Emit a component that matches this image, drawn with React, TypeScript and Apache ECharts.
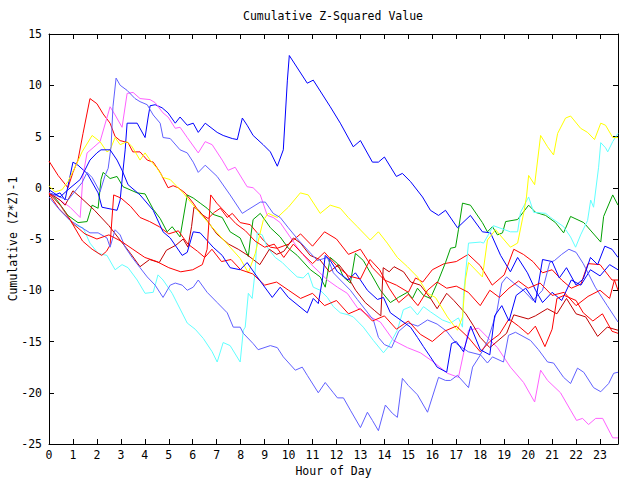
import React, { useEffect, useRef } from "react";
import * as echarts from "echarts";

const hourTicks = Array.from({ length: 24 }, (_, i) => i);

const magenta = [[0,-0.5],[0.46,-1.2],[0.88,-1.9],[1.3,-2.9],[1.42,1.2],[1.59,3.4],[1.84,3.9],[2.13,4.5],[2.55,7.9],[2.76,7.1],[3.05,5.9],[3.26,9.2],[3.51,9.3],[3.8,8.7],[4.22,8.6],[4.43,8.3],[4.76,7.3],[4.97,6.9],[5.27,5.8],[5.47,5.9],[5.77,4.9],[6.23,3.4],[6.52,4.5],[6.81,4.2],[7.23,2.7],[7.48,1.7],[7.77,2.0],[8.27,0.1],[8.52,0],[8.82,-0.7],[9.11,-2.7],[9.36,-2.9],[9.65,-3.4],[10.36,-5.8],[10.91,-7.4],[11.62,-9.0],[12.04,-9.7],[12.45,-10.3],[12.87,-11.7],[13.41,-12.6],[13.83,-13.1],[14.38,-14.9],[14.96,-15.6],[15.5,-16.1],[16.05,-17.0],[16.63,-18.1],[17.09,-18.5],[17.51,-13.9],[17.93,-13.7],[18.43,-14.9],[18.72,-15.6],[19.26,-17.5],[19.81,-19.0],[20.27,-20.9],[20.52,-17.8],[20.81,-18.8],[21.35,-20.0],[21.77,-21.7],[22.02,-22.7],[22.27,-22.5],[22.52,-23.1],[22.82,-22.5],[23.11,-22.5],[23.53,-24.4],[23.75,-24.4]];

const yellow = [[0,0.2],[0.25,-0.4],[0.54,-0.2],[0.79,0.6],[1.17,2.4],[1.38,3.5],[1.8,5.1],[2.13,4.5],[2.42,3.5],[2.55,3.7],[2.76,4.9],[2.97,4.2],[3.26,4.5],[3.47,4.0],[3.8,2.7],[4.01,3.4],[4.22,2.7],[4.51,1.9],[4.76,1.0],[5.06,0.8],[5.35,0.1],[5.6,-0.5],[5.77,-1.0],[6.31,-2.5],[7.02,-4.4],[7.56,-5.8],[7.98,-6.9],[8.32,-8.3],[8.61,-6.4],[8.94,-3.2],[9.15,-2.5],[9.53,-2.9],[9.99,-1.9],[10.49,-0.5],[10.82,-0.7],[11.32,-2.5],[11.74,-1.7],[12.16,-2.0],[12.49,-2.9],[12.87,-3.8],[13.41,-5.1],[13.75,-4.3],[14.12,-5.4],[14.54,-6.8],[14.96,-7.7],[15.38,-8.7],[15.8,-10.3],[16.13,-10.7],[16.63,-12.6],[17.05,-13.9],[17.26,-12.6],[17.38,-9.0],[17.51,-7.3],[18.09,-8.7],[18.3,-5.1],[18.64,-4.1],[18.93,-4.9],[19.26,-5.8],[19.56,-5.4],[19.81,-2.5],[19.93,-0.9],[20.02,1.2],[20.27,0.3],[20.52,5.1],[20.81,4.0],[21.06,3.2],[21.23,5.3],[21.56,6.8],[21.77,7.0],[22.19,5.8],[22.48,5.4],[22.77,4.7],[23.03,6.3],[23.23,6.1],[23.53,4.9],[23.75,4.9]];

const green = [[0,-0.5],[0.33,-1.2],[0.79,-2.7],[1.21,-3.4],[1.59,-3.3],[1.8,-1.7],[2.05,-2.0],[2.17,0.8],[2.26,1.5],[2.55,0.9],[2.84,1.1],[3.09,0.1],[3.68,-0.5],[4.01,-0.6],[4.35,-2.1],[4.64,-3.0],[4.93,-4.3],[5.14,-3.8],[5.47,-4.8],[5.77,-0.7],[6.02,-1.0],[6.31,-1.5],[6.6,-2.0],[6.85,-2.6],[7.23,-2.9],[7.56,-4.3],[7.98,-4.9],[8.32,-6.7],[8.4,-5.1],[8.52,-3.1],[8.82,-2.5],[9.24,-3.9],[9.65,-4.8],[9.99,-5.9],[10.36,-6.6],[10.91,-8.0],[11.32,-8.7],[11.53,-9.7],[11.74,-6.8],[12.04,-7.4],[12.29,-8.7],[12.58,-9.3],[12.79,-6.4],[13.12,-7.1],[13.54,-8.8],[13.83,-10.0],[14.25,-11.2],[14.58,-10.7],[14.96,-10.2],[15.17,-10.8],[15.38,-9.8],[15.63,-10.5],[15.92,-10.8],[16.26,-9.0],[16.55,-7.3],[16.76,-5.9],[16.97,-5.8],[17.09,-4.1],[17.26,-1.5],[17.59,-1.7],[18.09,-3.4],[18.3,-4.3],[18.51,-3.8],[18.72,-4.6],[18.93,-4.4],[19.06,-3.3],[19.56,-3.1],[20.02,-1.7],[20.31,-2.4],[20.73,-2.7],[21.14,-3.4],[21.48,-4.4],[21.77,-2.8],[22.32,-3.4],[23.03,-5.3],[23.15,-2.8],[23.53,-0.7],[23.75,-1.7]];

const cyan = [[0,-0.5],[0.46,-1.7],[1.0,-3.6],[1.42,-3.9],[1.71,-5.4],[2.05,-6.4],[2.42,-6.6],[2.76,-8.0],[3.05,-7.5],[3.3,-7.8],[3.68,-9.0],[4.01,-10.3],[4.35,-10.2],[4.55,-8.5],[4.76,-9.0],[5.14,-10.3],[5.77,-13.2],[6.1,-13.8],[6.44,-14.7],[6.81,-16.0],[7.02,-17.0],[7.27,-15.1],[7.56,-15.4],[7.98,-17.0],[8.11,-13.9],[8.19,-13.6],[8.32,-10.3],[8.48,-10.8],[8.61,-8.0],[8.69,-4.4],[8.9,-4.6],[9.11,-5.8],[9.44,-6.8],[9.74,-7.3],[9.95,-7.8],[10.36,-8.7],[10.61,-8.8],[10.82,-8.3],[11.03,-9.7],[11.32,-10.0],[11.62,-10.7],[11.87,-11.6],[12.16,-12.2],[12.49,-12.4],[12.7,-12.6],[13.12,-13.6],[13.54,-14.9],[13.96,-16.1],[14.17,-15.5],[14.54,-13.9],[14.79,-11.9],[15.09,-11.6],[15.38,-12.4],[15.63,-11.6],[15.92,-12.1],[16.42,-12.9],[16.76,-13.2],[17.09,-12.7],[17.26,-13.6],[17.3,-10.5],[17.51,-5.4],[18.01,-5.3],[18.14,-5.4],[18.55,-3.7],[19.26,-4.3],[19.56,-4.3],[19.68,-2.4],[20.02,-0.9],[20.23,-2.4],[20.73,-2.5],[20.94,-2.9],[21.48,-3.8],[21.77,-4.8],[21.98,-5.8],[22.19,-4.6],[22.48,-3.2],[22.61,-1.2],[22.73,-1.9],[22.94,2.0],[23.03,4.4],[23.23,3.9],[23.32,3.5],[23.53,4.5],[23.75,5.3]];

const bluePeak = [[0,-0.5],[0.25,-0.7],[0.46,-0.5],[0.67,-1.2],[1.0,2.5],[1.21,2.2],[1.59,1.4],[2.05,-0.5],[2.21,-1.9],[2.42,-2.0],[2.84,-2.2],[2.97,-1.2],[3.09,1.7],[3.18,3.7],[3.26,6.3],[3.68,6.3],[4.01,4.9],[4.14,6.9],[4.22,8.0],[4.43,8.1],[4.72,7.8],[4.97,7.3],[5.27,6.3],[5.47,6.9],[5.77,6.1],[6.02,6.3],[6.23,5.4],[6.52,6.3],[7.02,5.4],[7.27,5.1],[7.65,4.8],[7.86,4.7],[8.07,6.8],[8.27,6.1],[8.52,5.1],[8.94,4.2],[9.24,3.5],[9.53,2.1],[9.78,3.7],[9.95,10.5],[10.03,12.9],[10.78,10.2],[11.03,10.5],[11.74,7.9],[12.16,6.3],[12.7,4.0],[13.0,4.6],[13.5,2.5],[13.75,2.5],[14.0,3.0],[14.5,1.1],[14.75,1.4],[15.09,0.6],[15.59,-0.9],[15.92,-2.2],[16.26,-2.7],[16.55,-2.2],[17.05,-3.9],[17.59,-2.7],[18.09,-4.3],[18.43,-4.4],[18.85,-6.6],[19.26,-8.2],[19.56,-6.8],[19.97,-8.3],[20.31,-10.0],[20.6,-11.2],[21.0,-10.2],[21.4,-11.0],[21.8,-9.0],[22.2,-9.5],[22.6,-8.0],[23.0,-8.6],[23.4,-7.5],[23.75,-8.0]];

const blueLow = [[0,-0.2],[0.46,-0.9],[0.79,-0.2],[1.3,0.8],[1.71,2.7],[2.0,3.4],[2.17,3.7],[2.55,3.7],[2.84,2.7],[3.05,1.7],[3.3,0.3],[3.8,-0.7],[4.35,-2.2],[4.76,-4.3],[5.06,-4.9],[5.56,-6.6],[5.77,-6.3],[6.02,-4.3],[6.31,-4.4],[6.85,-5.8],[7.23,-6.6],[7.56,-7.8],[7.98,-8.0],[8.27,-7.3],[8.69,-8.7],[9.32,-10.7],[9.65,-9.7],[9.99,-10.7],[10.78,-12.2],[11.03,-10.8],[11.24,-11.3],[11.41,-9.0],[11.53,-6.6],[11.74,-7.1],[12.04,-8.2],[12.49,-9.0],[12.79,-8.3],[13.0,-9.0],[13.29,-10.0],[13.71,-10.9],[13.96,-10.7],[14.25,-12.2],[14.67,-12.9],[15.09,-13.6],[15.38,-14.6],[15.63,-15.5],[15.92,-16.5],[16.2,-17.5],[16.6,-18.0],[16.8,-15.2],[17.0,-15.0],[17.3,-16.0],[17.6,-13.5],[18.0,-15.8],[18.4,-16.3],[18.6,-12.5],[18.9,-11.5],[19.2,-13.0],[19.5,-10.5],[19.9,-9.8],[20.3,-11.2],[20.6,-7.0],[21.0,-7.2],[21.3,-8.8],[21.6,-7.8],[22.0,-9.5],[22.3,-8.9],[22.6,-6.8],[22.9,-7.5],[23.2,-5.7],[23.5,-6.0],[23.75,-6.8]];

const slateHigh = [[0,-0.5],[0.79,-1.2],[1.38,0.5],[1.59,1.5],[1.8,1.0],[2.13,-0.4],[2.34,1.2],[2.47,1.9],[2.59,4.0],[2.67,7.9],[2.8,10.7],[2.97,10.0],[3.26,9.5],[3.59,8.7],[3.8,8.4],[4.1,8.1],[4.35,7.1],[4.64,6.3],[4.76,4.9],[5.06,4.8],[5.47,3.7],[5.77,3.4],[6.02,2.5],[6.23,1.5],[6.52,2.2],[7.02,1.1],[7.56,-0.7],[8.07,-2.5],[8.27,-2.2],[8.82,-1.4],[9.03,-1.4],[9.36,-2.5],[9.65,-2.9],[9.99,-3.9],[10.41,-5.1],[11.2,-7.1],[11.62,-6.8],[11.87,-8.3],[12.16,-9.0],[12.58,-10.0],[12.87,-10.9],[13.54,-12.9],[13.75,-14.6],[14.0,-15.3],[14.3,-15.6],[14.6,-14.0],[15.0,-13.2],[15.4,-13.5],[15.8,-12.9],[16.2,-13.3],[16.6,-14.0],[17.0,-15.2],[17.5,-16.0],[18.0,-16.3],[18.3,-15.0],[18.7,-12.0],[18.9,-9.3],[19.1,-8.7],[19.4,-9.3],[19.8,-10.0],[20.2,-11.0],[20.6,-10.0],[20.9,-7.3],[21.1,-7.1],[21.4,-6.5],[21.7,-6.0],[22.0,-6.3],[22.3,-7.4],[22.8,-9.7],[23.3,-11.5],[23.75,-13.1]];

const slateLow = [[0,-0.9],[0.46,-2.2],[0.88,-3.2],[1.3,-3.8],[1.71,-4.4],[2.05,-4.4],[2.42,-4.9],[2.55,-5.8],[2.76,-4.1],[2.97,-4.6],[3.18,-5.8],[3.47,-6.8],[3.8,-7.8],[4.1,-8.7],[4.43,-9.5],[4.76,-10.7],[5.06,-9.5],[5.27,-9.3],[5.56,-9.5],[5.77,-10.0],[6.02,-9.7],[6.23,-9.0],[6.6,-10.2],[7.02,-11.2],[7.44,-12.2],[7.69,-13.6],[7.98,-13.6],[8.11,-14.2],[8.52,-15.2],[8.73,-15.8],[9.24,-15.4],[9.53,-15.6],[9.78,-16.5],[10.28,-17.8],[10.57,-17.5],[10.78,-18.3],[11.24,-20.0],[11.53,-19.0],[11.87,-20.0],[12.04,-20.5],[12.29,-20.5],[12.58,-21.7],[13.0,-23.4],[13.29,-21.9],[13.5,-22.7],[13.75,-23.7],[14.04,-21.2],[14.33,-22.0],[14.54,-22.4],[14.75,-18.6],[15.0,-19.3],[15.38,-20.2],[15.8,-21.9],[16.26,-18.5],[16.55,-18.8],[16.76,-18.8],[17.05,-18.3],[17.51,-19.5],[17.68,-17.5],[18.01,-16.3],[18.3,-17.1],[18.51,-16.5],[18.97,-17.0],[19.18,-14.4],[19.47,-14.1],[20.1,-14.9],[20.43,-15.8],[20.81,-17.0],[21.06,-17.1],[21.48,-18.5],[21.77,-19.1],[22.06,-17.6],[22.32,-18.0],[22.73,-19.5],[23.03,-19.9],[23.36,-19.1],[23.57,-18.1],[23.75,-18.0]];

const redHigh = [[0,2.6],[0.38,1.2],[0.79,0],[1.0,1.5],[1.21,2.7],[1.42,5.3],[1.71,8.7],[2.0,8.2],[2.26,7.2],[2.55,6.3],[2.76,5.0],[2.97,4.6],[3.3,4.4],[3.5,3.5],[3.8,3.5],[4.1,2.7],[4.35,2.5],[4.64,1.5],[4.97,0],[5.18,0.2],[5.39,0],[5.68,-0.5],[6.02,-1.5],[6.31,-2.5],[6.64,-3.0],[6.9,-2.4],[7.15,-2.0],[7.44,-2.9],[7.65,-2.5],[7.98,-3.4],[8.4,-3.6],[8.69,-4.4],[8.94,-5.1],[9.24,-5.8],[9.53,-5.9],[10.0,-5.5],[10.5,-4.5],[11.0,-5.7],[11.5,-4.3],[12.0,-5.0],[12.5,-6.5],[13.0,-6.0],[13.5,-7.8],[14.0,-9.0],[14.5,-9.5],[15.0,-10.2],[15.3,-8.8],[15.6,-9.2],[16.0,-8.0],[16.5,-7.4],[17.0,-7.2],[17.5,-6.5],[18.0,-7.6],[18.5,-9.5],[19.0,-8.5],[19.4,-6.0],[19.8,-6.5],[20.2,-7.2],[20.6,-8.3],[21.0,-8.0],[21.4,-9.0],[21.8,-9.8],[22.2,-9.4],[22.5,-7.4],[23.0,-7.5],[23.5,-9.0],[23.75,-9.0]];

const redMid = [[0,-0.6],[0.4,-2.0],[0.9,-3.2],[1.4,-5.2],[1.8,-6.0],[2.2,-6.6],[2.4,-6.2],[2.55,-5.6],[2.7,-0.7],[3.0,-1.0],[3.4,-1.8],[3.8,-2.9],[4.2,-3.3],[4.6,-3.8],[5.0,-4.5],[5.4,-4.2],[5.8,-5.5],[6.2,-6.2],[6.5,-6.8],[6.8,-6.0],[7.2,-7.2],[7.6,-7.0],[8.0,-8.0],[8.5,-8.4],[9.0,-9.5],[9.5,-9.2],[10.0,-10.0],[10.5,-10.8],[11.0,-10.3],[11.5,-11.5],[12.0,-11.0],[12.5,-12.3],[13.0,-11.8],[13.5,-13.0],[14.0,-12.5],[14.5,-13.8],[15.0,-13.0],[15.5,-14.3],[16.0,-15.0],[16.5,-14.0],[17.0,-13.5],[17.5,-14.6],[18.0,-16.0],[18.4,-15.0],[18.8,-14.3],[19.2,-12.8],[19.6,-13.5],[20.0,-14.3],[20.3,-13.5],[20.7,-15.5],[21.0,-13.8],[21.2,-10.8],[21.5,-10.5],[22.0,-11.0],[22.3,-12.2],[22.7,-13.0],[23.1,-12.3],[23.5,-14.0],[23.75,-14.2]];

const redLow = [[0,-0.5],[0.5,-1.8],[1.0,-3.5],[1.5,-4.5],[2.0,-5.0],[2.5,-4.6],[3.0,-5.2],[3.5,-6.0],[4.0,-6.8],[4.5,-7.2],[5.0,-7.8],[5.5,-8.2],[6.0,-8.0],[6.4,-7.5],[6.6,-6.0],[6.75,-0.7],[7.0,-1.5],[7.4,-2.5],[7.8,-3.5],[8.2,-4.2],[8.6,-5.2],[9.0,-5.8],[9.4,-5.5],[9.8,-6.8],[10.2,-5.5],[10.6,-6.5],[11.0,-7.4],[11.5,-6.3],[12.0,-7.6],[12.5,-8.6],[13.0,-8.9],[13.4,-7.0],[13.8,-8.0],[14.2,-9.8],[14.6,-11.2],[15.0,-10.4],[15.4,-11.5],[15.8,-10.0],[16.2,-9.2],[16.6,-9.8],[17.0,-9.6],[17.5,-10.2],[18.0,-11.5],[18.4,-10.0],[18.8,-10.7],[19.2,-9.8],[19.6,-9.1],[20.0,-9.8],[20.5,-9.3],[21.0,-10.5],[21.5,-10.2],[22.0,-11.5],[22.5,-10.6],[23.0,-10.0],[23.4,-10.8],[23.6,-9.0],[23.75,-10.0]];

const darkRed = [[0,-0.5],[0.46,-1.2],[0.67,-1.7],[1.0,-0.3],[1.3,-0.9],[1.9,-2.2],[2.5,-3.7],[3.0,-5.2],[3.4,-6.4],[3.8,-7.7],[4.2,-7.0],[4.6,-7.3],[4.9,-6.1],[5.3,-5.6],[5.6,-5.0],[5.8,-5.8],[5.95,-3.8],[6.05,-1.9],[6.25,-2.2],[6.6,-3.2],[7.0,-4.5],[7.5,-5.5],[7.9,-6.0],[8.3,-6.6],[8.8,-7.5],[9.2,-6.0],[9.5,-6.5],[9.8,-6.2],[10.2,-4.9],[10.5,-5.4],[10.9,-6.6],[11.3,-7.0],[11.7,-8.2],[12.1,-7.5],[12.4,-8.4],[12.8,-10.0],[13.2,-11.2],[13.6,-12.0],[13.85,-12.5],[13.95,-7.8],[14.2,-8.2],[14.4,-7.7],[14.8,-8.2],[15.1,-9.2],[15.5,-9.5],[15.9,-10.7],[16.2,-11.8],[16.6,-10.3],[16.9,-11.0],[17.4,-12.3],[17.7,-13.4],[18.0,-14.6],[18.4,-15.6],[19.1,-14.2],[19.4,-12.4],[19.7,-12.6],[20.0,-12.8],[20.3,-12.5],[20.8,-11.8],[21.2,-12.3],[21.6,-10.8],[22.0,-12.3],[22.4,-12.6],[22.9,-14.5],[23.3,-13.6],[23.75,-13.9]];

const seriesList = [
  { name: "redHigh", color: "#ff0000", data: redHigh },
  { name: "green", color: "#00a000", data: green },
  { name: "bluePeak", color: "#0000ff", data: bluePeak },
  { name: "magenta", color: "#ff60ff", data: magenta },
  { name: "cyan", color: "#60ffff", data: cyan },
  { name: "darkRed", color: "#c00000", data: darkRed },
  { name: "yellow", color: "#ffff00", data: yellow },
  { name: "slateHigh", color: "#6060ff", data: slateHigh },
  { name: "redMid", color: "#ff0000", data: redMid },
  { name: "blueLow", color: "#0000ff", data: blueLow },
  { name: "slateLow", color: "#6060ff", data: slateLow },
  { name: "redLow", color: "#ff0000", data: redLow },
];

const FONT = "DejaVu Sans Mono";

export default function App() {
  const ref = useRef<HTMLDivElement>(null);
  useEffect(() => {
    const chart = echarts.init(ref.current!, null, { renderer: "svg" });
    const xBase = {
      type: "value",
      min: 0,
      max: 23.75,
      interval: 1,
      splitLine: { show: false },
      axisLine: { onZero: false, lineStyle: { color: "#000", width: 1 } },
      axisTick: { inside: true, length: 5, lineStyle: { color: "#000" } },
    };
    const yBase = {
      type: "value",
      min: -25,
      max: 15,
      interval: 5,
      splitLine: { show: false },
      axisLine: { onZero: false, lineStyle: { color: "#000", width: 1 } },
      axisTick: { inside: true, length: 5, lineStyle: { color: "#000" } },
    };
    chart.setOption({
      animation: false,
      backgroundColor: "#ffffff",
      title: {
        text: "Cumulative Z-Squared Value",
        left: 238,
        top: 5,
        textStyle: { fontFamily: FONT, fontSize: 11.5, fontWeight: "normal", color: "#000" },
      },
      grid: {
        left: 49,
        right: 22,
        top: 34,
        bottom: 36,
        containLabel: false,
        outerBoundsMode: "none",
      },
      xAxis: [
        {
          ...xBase,
          position: "bottom",
          name: "Hour of Day",
          nameLocation: "middle",
          nameGap: 21,
          nameMoveOverlap: false,
          nameTextStyle: { fontFamily: FONT, fontSize: 11.5, color: "#000" },
          axisLabel: {
            fontFamily: FONT,
            fontSize: 11.5,
            color: "#000",
            margin: 5,
            showMaxLabel: false,
            formatter: (v: number) => (Number.isInteger(v) && hourTicks.includes(v) ? String(v) : ""),
          },
        },
        { ...xBase, position: "top", axisLabel: { show: false } },
      ],
      yAxis: [
        {
          ...yBase,
          position: "left",
          name: "Cumulative (Z*Z)-1",
          nameLocation: "middle",
          nameGap: 30,
          nameRotate: 90,
          nameMoveOverlap: false,
          nameTextStyle: { fontFamily: FONT, fontSize: 11.5, color: "#000" },
          axisLabel: { fontFamily: FONT, fontSize: 11.5, color: "#000", margin: 7 },
        },
        { ...yBase, position: "right", axisLabel: { show: false } },
      ],
      series: seriesList.map((s) => ({
        name: s.name,
        type: "line",
        xAxisIndex: 0,
        yAxisIndex: 0,
        data: s.data,
        showSymbol: false,
        symbol: "none",
        lineStyle: { color: s.color, width: 1 },
        itemStyle: { color: s.color },
        z: 2,
      })),
    });
    return () => chart.dispose();
  }, []);
  return (
    <div
      ref={ref}
      style={{ position: "absolute", left: 0, top: 0, width: 640, height: 480 }}
    />
  );
}
